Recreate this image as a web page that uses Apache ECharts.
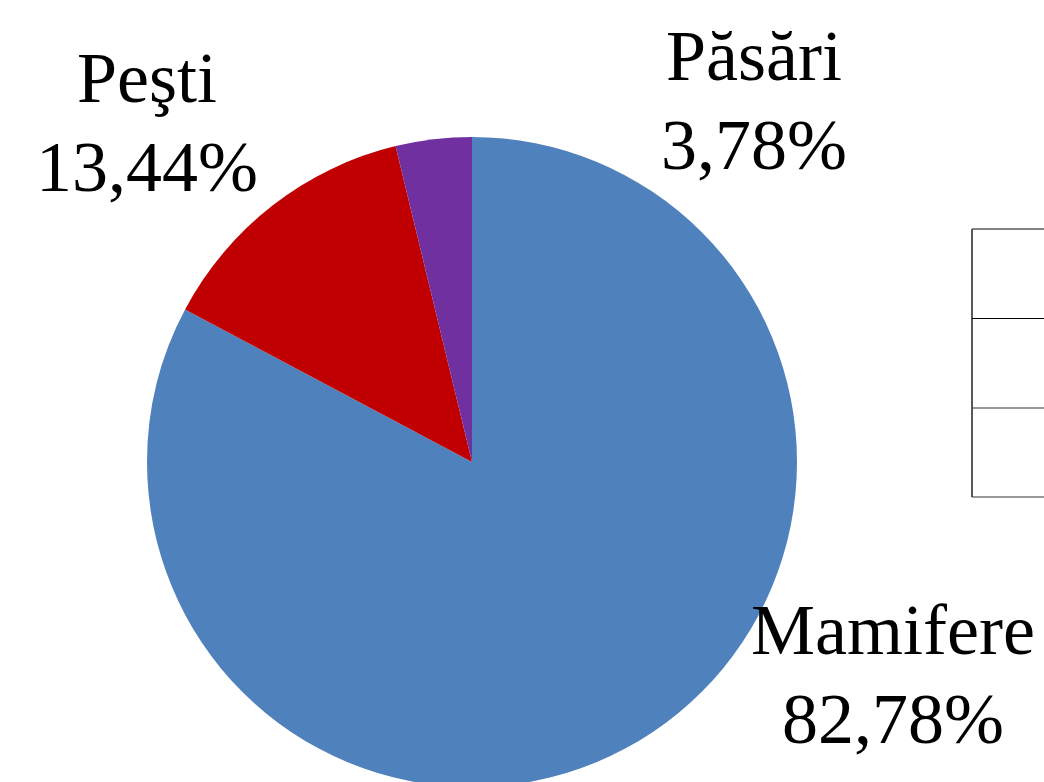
<!DOCTYPE html>
<html>
<head>
<meta charset="utf-8">
<script src="https://cdn.jsdelivr.net/npm/echarts@6/dist/echarts.min.js"></script>
<style>
html,body{margin:0;padding:0;background:#fff;}
#c{width:1044px;height:782px;}
</style>
</head>
<body>
<div id="c"></div>
<script>
var categories = ['Mamifere', 'Peşti', 'Păsări'];
var values = [82.78, 13.44, 3.78];
var colors = ['#4F81BD', '#C00000', '#7030A0'];
var labelPos = [[893, 680], [147, 128], [754, 106]];

var chart = echarts.init(document.getElementById('c'), null, {renderer: 'canvas'});
var data = categories.map(function (n, i) {
  return {name: n, value: values[i], itemStyle: {color: colors[i]}};
});
chart.setOption({
  animation: false,
  backgroundColor: '#ffffff',
  series: [{
    type: 'pie',
    center: [472, 462],
    radius: [0, 325],
    startAngle: 90,
    clockwise: true,
    data: data,
    itemStyle: {borderWidth: 0},
    label: {
      show: true,
      position: 'inside',
      overflow: 'none',
      fontFamily: 'Liberation Serif, Times New Roman, serif',
      fontSize: 72,
      lineHeight: 89,
      color: '#000',
      align: 'center',
      formatter: function (p) {
        return p.name + '\n' + p.value.toFixed(2).replace('.', ',') + '%';
      }
    },
    labelLine: {show: false},
    labelLayout: function (p) {
      var pos = labelPos[p.dataIndex];
      return {x: pos[0], y: pos[1], align: 'center', verticalAlign: 'middle', hideOverlap: false, moveOverlap: false};
    },
    emphasis: {disabled: true}
  }],
  graphic: [
    {type: 'line', shape: {x1: 972, y1: 229, x2: 972, y2: 497}, style: {stroke: '#595959', lineWidth: 2}},
    {type: 'line', shape: {x1: 972, y1: 229, x2: 1044, y2: 229}, style: {stroke: '#595959', lineWidth: 1.5}},
    {type: 'line', shape: {x1: 972, y1: 318.5, x2: 1044, y2: 318.5}, style: {stroke: '#000', lineWidth: 1.2}},
    {type: 'line', shape: {x1: 972, y1: 408, x2: 1044, y2: 408}, style: {stroke: '#333', lineWidth: 1.2}},
    {type: 'line', shape: {x1: 972, y1: 497, x2: 1044, y2: 497}, style: {stroke: '#333', lineWidth: 1.2}}
  ]
});
</script>
</body>
</html>
